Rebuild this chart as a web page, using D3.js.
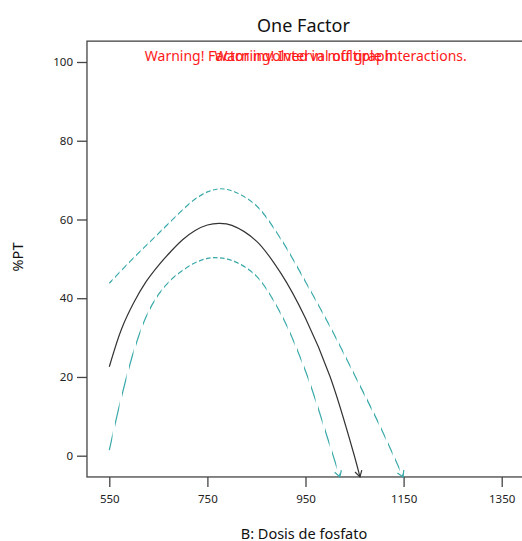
<!DOCTYPE html>
<html>
<head>
<meta charset="utf-8">
<script src="https://cdn.jsdelivr.net/npm/d3@7"></script>
<style>
  html, body { margin: 0; padding: 0; background: #fff; }
  svg { display: block; }
  text { font-family: "Noto Sans", "Open Sans", sans-serif; }
</style>
</head>
<body>
<script>
// ---------------- data ----------------
const title = "One Factor";
const xLabel = "B: Dosis de fosfato";
const yLabel = "%PT";
const warnings = ["Warning! Factor involved in multiple interactions.", "Warning! Interval off graph."];

const xTicks = [550, 750, 950, 1150, 1350];
const yTicks = [0, 20, 40, 60, 80, 100];
const xLimits = [504.5, 1420];
const yLimits = [-5.4, 105.3];

// predicted %PT
const predX = [550, 575, 600, 625, 650, 675, 700, 725, 750, 775, 800, 850, 900, 950, 1000, 1050, 1061];
const predY = [22.6, 32.2, 38.9, 44.2, 48.3, 51.8, 54.9, 57.2, 58.6, 59.0, 58.5, 54.5, 46.3, 34.9, 20.1, -0.2, -5.4];
// upper confidence band
const upperX = [550, 600, 650, 700, 725, 750, 775, 800, 850, 900, 950, 1000, 1050, 1100, 1149];
const upperY = [43.8, 50.3, 56.4, 62.5, 65.2, 67.0, 67.8, 67.3, 63.5, 55.0, 44.2, 32.8, 20.5, 8.0, -5.4];
// lower confidence band
const lowerX = [550, 575, 600, 625, 650, 675, 700, 725, 750, 765, 800, 850, 900, 950, 1000, 1020];
const lowerY = [1.4, 15.0, 26.6, 35.3, 40.9, 44.6, 47.1, 49.0, 50.1, 50.3, 49.6, 45.6, 36.0, 21.5, 2.5, -5.4];

// ---------------- drawing ----------------
(function () {
const W = 522, H = 541;
const svg = d3.select("body").append("svg").attr("width", W).attr("height", H);

const x = d3.scaleLinear().domain([550, 1350]).range([109.3, 501.7]);
const y = d3.scaleLinear().domain([0, 100]).range([455.7, 62]);

const pLeft = x(xLimits[0]), pRight = x(xLimits[1]);
const pTop = y(yLimits[1]), pBottom = y(yLimits[0]);
const frameColor = "#444";

// frame
svg.append("rect")
  .attr("x", pLeft).attr("y", pTop)
  .attr("width", pRight - pLeft).attr("height", pBottom - pTop)
  .attr("fill", "none").attr("stroke", frameColor).attr("stroke-width", 1.3);

// axes
const xAxis = d3.axisBottom(x).tickValues(xTicks).tickSize(10).tickPadding(8).tickFormat(d3.format("d"));
const gx = svg.append("g").attr("transform", `translate(0,${pBottom})`).call(xAxis);
gx.select(".domain").remove();
gx.selectAll("line").attr("stroke", frameColor).attr("stroke-width", 1.3);
gx.selectAll("text").attr("font-size", 11.5).attr("fill", "#222");

const yAxis = d3.axisLeft(y).tickValues(yTicks).tickSize(10).tickPadding(4).tickFormat(d3.format("d"));
const gy = svg.append("g").attr("transform", `translate(${pLeft},0)`).call(yAxis);
gy.select(".domain").remove();
gy.selectAll("line").attr("stroke", frameColor).attr("stroke-width", 1.3);
gy.selectAll("text").attr("font-size", 11.5).attr("fill", "#222");

// titles
svg.append("text").attr("x", 303.5).attr("y", 31.5).attr("text-anchor", "middle")
  .attr("font-size", 18).attr("fill", "#111").text(title);
svg.append("text").attr("x", 304).attr("y", 538.5).attr("text-anchor", "middle")
  .attr("font-size", 14.5).attr("fill", "#111").text(xLabel);
svg.append("text").attr("transform", "translate(23,257) rotate(-90)").attr("text-anchor", "middle")
  .attr("font-size", 14.5).attr("fill", "#111").text(yLabel);

// warnings (overlapping, centred on the plot, as in the original)
warnings.forEach(w => {
  svg.append("text").attr("x", 305.8).attr("y", 61).attr("text-anchor", "middle")
    .attr("font-size", 14).attr("fill", "#ff1a1a").text(w);
});

// dash stripes (constant horizontal spacing like the original)
const defs = svg.append("defs");
const clip = defs.append("clipPath").attr("id", "dashclip");
const period = 7, on = 4.6;
d3.range(pLeft, pRight, period).forEach(s => {
  clip.append("rect").attr("x", s).attr("y", 0).attr("width", on).attr("height", H);
});

const line = d3.line().x(d => x(d[0])).y(d => y(d[1])).curve(d3.curveCatmullRom.alpha(0.5));

function series(xs, ys, color, dashed) {
  const pts = xs.map((v, i) => [v, ys[i]]);
  const p = svg.append("path").datum(pts)
    .attr("d", line).attr("fill", "none")
    .attr("stroke", color).attr("stroke-width", 1.2);
  if (dashed) p.attr("clip-path", "url(#dashclip)");
  // arrow head at the end
  const n = pts.length;
  const ex = x(pts[n - 1][0]), ey = y(pts[n - 1][1]);
  const px = x(pts[n - 2][0]), py = y(pts[n - 2][1]);
  const ang = Math.atan2(ey - py, ex - px);
  const L = 7, a = Math.PI / 6;
  const p1 = [ex - L * Math.cos(ang - a), ey - L * Math.sin(ang - a)];
  const p2 = [ex - L * Math.cos(ang + a), ey - L * Math.sin(ang + a)];
  svg.append("path")
    .attr("d", `M${p1[0]},${p1[1]}L${ex},${ey}L${p2[0]},${p2[1]}`)
    .attr("fill", "none").attr("stroke", color).attr("stroke-width", 1.2);
}

const teal = "#3aa9a9";
series(upperX, upperY, teal, true);
series(lowerX, lowerY, teal, true);
series(predX, predY, "#333", false);
})();
</script>
</body>
</html>
